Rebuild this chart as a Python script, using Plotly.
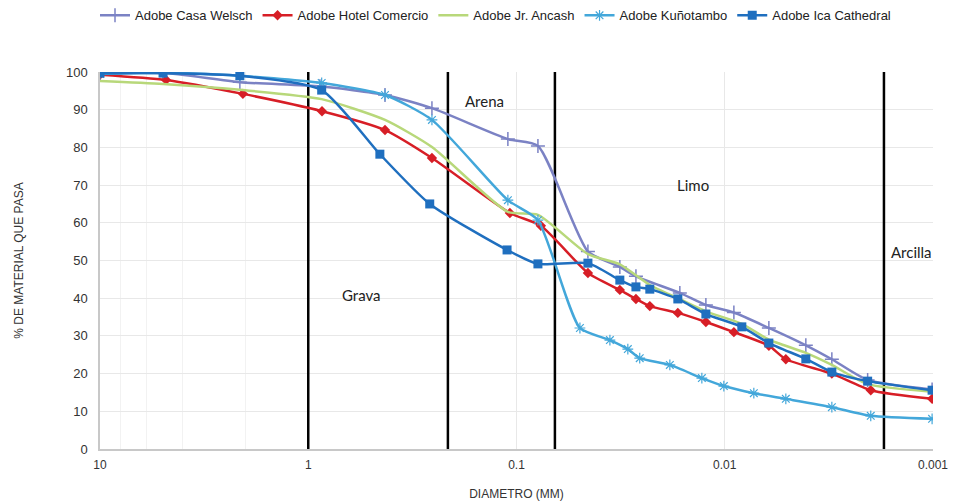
import plotly.graph_objects as go

# ---- data (diameter in mm, % passing) ----
welsch_x = [10, 4.98, 2.13, 0.879, 0.428, 0.2547, 0.110, 0.0789, 0.0454, 0.0319, 0.0267, 0.01643, 0.01232, 0.00904, 0.00614, 0.00408, 0.00306, 0.00206, 0.00101]
welsch_y = [99.5, 99.8, 97.3, 96.2, 93.9, 90.4, 82.2, 80.4, 52.4, 48.3, 45.8, 41.4, 38.2, 36.2, 32.1, 27.5, 23.8, 18.3, 15.8]

hotel_x = [10, 4.82, 2.06, 0.859, 0.428, 0.2547, 0.1076, 0.0764, 0.0454, 0.0319, 0.0267, 0.0229, 0.0168, 0.01232, 0.00904, 0.00614, 0.00509, 0.00306, 0.00199, 0.00101]
hotel_y = [99.3, 97.9, 94.2, 89.6, 84.6, 77.2, 62.6, 59.2, 46.7, 42.2, 39.8, 37.9, 36.1, 33.7, 31.0, 27.4, 23.8, 20.0, 15.6, 13.3]

ancash_x = [10, 4.98, 2.06, 0.862, 0.428, 0.2547, 0.110, 0.0789, 0.0454, 0.0319, 0.0229, 0.0168, 0.01232, 0.00828, 0.00614, 0.00408, 0.00306, 0.00206, 0.00101]
ancash_y = [97.6, 96.8, 95.2, 92.8, 87.3, 80.1, 62.9, 62.1, 51.7, 49.0, 43.5, 40.0, 36.5, 33.2, 29.0, 25.5, 22.3, 17.2, 15.2]

kuno_x = [10, 4.98, 2.13, 0.862, 0.428, 0.2547, 0.110, 0.0789, 0.0496, 0.0356, 0.0292, 0.0256, 0.01835, 0.01288, 0.0101, 0.00725, 0.00509, 0.00306, 0.00199, 0.00101]
kuno_y = [99.5, 99.8, 99.0, 97.1, 93.9, 87.3, 66.0, 60.7, 32.1, 28.9, 26.5, 24.1, 22.3, 18.8, 16.7, 14.8, 13.3, 11.1, 8.8, 8.0]

ica_x = [10, 4.98, 2.13, 0.862, 0.453, 0.261, 0.111, 0.0789, 0.0454, 0.0319, 0.0267, 0.0229, 0.0168, 0.01232, 0.00828, 0.00614, 0.00408, 0.00306, 0.00206, 0.00101]
ica_y = [99.7, 99.7, 99.0, 95.2, 78.2, 65.0, 52.8, 49.1, 49.3, 44.8, 43.0, 42.4, 39.8, 35.8, 32.4, 28.1, 23.9, 20.4, 18.0, 15.6]

boundaries = [1.0, 0.2135, 0.0654, 0.00172]
zone_labels = ["Grava", "Arena", "Limo", "Arcilla"]
zone_pos = [(0.3145, 0.408), (0.462, 0.923), (0.712, 0.700), (0.9736, 0.5225)]

tick_vals = [10, 1, 0.1, 0.01, 0.001]
tick_text = ["10", "1", "0.1", "0.01", "0.001"]

fig = go.Figure()

for b in boundaries:
    fig.add_trace(go.Scatter(x=[b, b], y=[0, 100], mode="lines",
                             line=dict(color="black", width=2.5),
                             showlegend=False, hoverinfo="skip"))

series = [
    ("Adobe Casa Welsch", welsch_x, welsch_y, "#7b82c4", dict(symbol="cross-thin", size=10, line=dict(width=1.5, color="#7b82c4"))),
    ("Adobe Hotel Comercio", hotel_x, hotel_y, "#d71e26", dict(symbol="diamond", size=8)),
    ("Adobe Jr. Ancash", ancash_x, ancash_y, "#b8d87a", None),
    ("Adobe Kuñotambo", kuno_x, kuno_y, "#43a7da", dict(symbol="asterisk-open", size=9, line=dict(width=1.2, color="#43a7da"))),
    ("Adobe Ica Cathedral", ica_x, ica_y, "#1f6fbf", dict(symbol="square", size=9)),
]

for name, xs, ys, col, mk in series:
    if mk is None:
        fig.add_trace(go.Scatter(x=xs, y=ys, name=name, mode="lines",
                                 line=dict(color=col, width=2.5, shape="spline", smoothing=0.6)))
    else:
        fig.add_trace(go.Scatter(x=xs, y=ys, name=name, mode="lines+markers",
                                 line=dict(color=col, width=2.5, shape="spline", smoothing=0.6),
                                 marker=dict(color=col, **mk)))

for lab, (px, py) in zip(zone_labels, zone_pos):
    fig.add_annotation(x=px, y=py, xref="paper", yref="paper", text=lab, showarrow=False,
                       xanchor="center", yanchor="middle",
                       font=dict(family="Lato", size=15, color="#222"))

fig.update_layout(
    width=963, height=501,
    margin=dict(l=100, r=30, t=72, b=52, autoexpand=False),
    paper_bgcolor="white", plot_bgcolor="white",
    font=dict(family="Liberation Sans", size=12, color="#333"),
    legend=dict(orientation="h", x=-0.006, y=1.19, xanchor="left", yanchor="top",
                font=dict(size=13, color="#222"), itemwidth=30, tracegroupgap=0),
    xaxis=dict(type="log", range=[1, -3], tickvals=tick_vals, ticktext=tick_text,
               showgrid=True, gridcolor="#e8e8e8", gridwidth=1,
               minor=dict(showgrid=True, gridcolor="#f2f2f2", ticks=""),
               showline=True, linecolor="#c8c8c8", linewidth=1.5,
               ticks="", ticklabelstandoff=4, tickfont=dict(size=12, color="#333"),
               title=dict(text="DIAMETRO (MM)", font=dict(size=12, color="#333"), standoff=18),
               zeroline=False),
    yaxis=dict(range=[0, 100], dtick=10, showgrid=True, gridcolor="#e8e8e8",
               showline=True, linecolor="#c8c8c8", linewidth=1.5, ticks="",
               ticklabelstandoff=8,
               tickfont=dict(size=13, color="#333"),
               title=dict(text="% DE MATERIAL QUE PASA", font=dict(size=12, color="#333"), standoff=40),
               zeroline=False),
)

fig.write_html("out.html")
